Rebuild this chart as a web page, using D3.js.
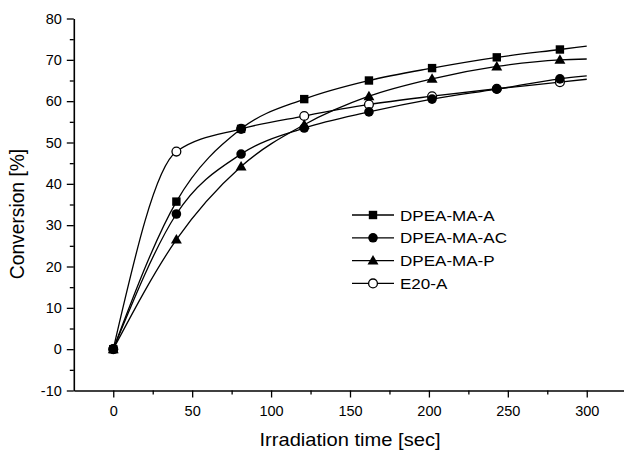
<!DOCTYPE html>
<html>
<head>
<meta charset="utf-8">
<script src="https://cdn.jsdelivr.net/npm/d3@7"></script>
<style>
  html, body { margin: 0; padding: 0; background: #fff; }
  svg { display: block; }
  text { font-family: "Liberation Sans", Arial, Helvetica, sans-serif; fill: #000; }
</style>
</head>
<body>
<svg id="chart" width="624" height="450"></svg>
<script>
// ---- data ----
const times = [0, 40, 81, 121, 162, 202, 243, 283];
const seriesNames = ["DPEA-MA-A", "DPEA-MA-AC", "DPEA-MA-P", "E20-A"];
const dpeaMaA  = [0, 35.7, 53.3, 60.5, 65.0, 68.0, 70.6, 72.5];
const dpeaMaAC = [0, 32.7, 47.2, 53.5, 57.4, 60.5, 62.9, 65.4];
const dpeaMaP  = [0, 26.5, 44.2, 54.3, 61.2, 65.4, 68.4, 70.0];
const e20A     = [0, 47.8, 53.3, 56.4, 59.2, 61.2, 63.0, 64.6];
// spline end (x = 300)
const curveEndTime = 300;
const curveEnd = [73.3, 66.1, 70.2, 65.3];
const markerTypes = ["square", "circle", "triangle", "open"];
const xTicks = [0, 50, 100, 150, 200, 250, 300];
const xMinor = [25, 75, 125, 175, 225, 275];
const yTicks = [-10, 0, 10, 20, 30, 40, 50, 60, 70, 80];
const yMinor = [-5, 5, 15, 25, 35, 45, 55, 65, 75];
const xTitle = "Irradiation time [sec]";
const yTitle = "Conversion [%]";

const allValues = [dpeaMaA, dpeaMaAC, dpeaMaP, e20A];

const svg = d3.select("#chart");
const x = d3.scaleLinear().domain([-25, 325]).range([73.8, 626.2]);
const y = d3.scaleLinear().domain([-10, 80]).range([390.5, 18.5]);

const x0 = x(-25), y0 = y(-10);
const fmt = d => String(d); // plain hyphen-minus like the original

// minor ticks
svg.append("g").attr("transform", `translate(0,${y0})`)
  .call(d3.axisBottom(x).tickValues(xMinor).tickSize(4).tickFormat(""))
  .call(g => g.select(".domain").remove())
  .selectAll("line").attr("stroke-width", 1.3);
svg.append("g").attr("transform", `translate(${x0},0)`)
  .call(d3.axisLeft(y).tickValues(yMinor).tickSize(4).tickFormat(""))
  .call(g => g.select(".domain").remove())
  .selectAll("line").attr("stroke-width", 1.3);

// major axes
const xAxis = svg.append("g").attr("transform", `translate(0,${y0})`)
  .call(d3.axisBottom(x).tickValues(xTicks).tickFormat(fmt).tickSize(7).tickSizeOuter(0).tickPadding(8));
const yAxis = svg.append("g").attr("transform", `translate(${x0},0)`)
  .call(d3.axisLeft(y).tickValues(yTicks).tickFormat(fmt).tickSize(7).tickSizeOuter(0).tickPadding(5));
[xAxis, yAxis].forEach(g => {
  g.select(".domain").attr("stroke-width", 1.6);
  g.selectAll(".tick line").attr("stroke-width", 1.3);
  g.selectAll(".tick text").attr("font-size", 14.5)
    .attr("font-family", '"Liberation Sans", Arial, sans-serif').attr("fill", "#000");
});

// curves
const line = d3.line().x(d => x(d[0])).y(d => y(d[1])).curve(d3.curveMonotoneX);
allValues.forEach((vals, i) => {
  const pts = times.map((t, j) => [t, vals[j]]).concat([[curveEndTime, curveEnd[i]]]);
  svg.append("path").attr("d", line(pts))
    .attr("fill", "none").attr("stroke", "#000").attr("stroke-width", 1.3);
});

function drawMarker(g, type, cx, cy) {
  if (type === "square") {
    g.append("rect").attr("x", cx - 4.2).attr("y", cy - 4.2).attr("width", 8.4).attr("height", 8.4).attr("fill", "#000");
  } else if (type === "circle") {
    g.append("circle").attr("cx", cx).attr("cy", cy).attr("r", 4.8).attr("fill", "#000");
  } else if (type === "triangle") {
    g.append("path").attr("d", d3.symbol(d3.symbolTriangle, 52)()).attr("transform", `translate(${cx},${cy + 0.8})`).attr("fill", "#000");
  } else {
    g.append("circle").attr("cx", cx).attr("cy", cy).attr("r", 4.4).attr("fill", "#fff").attr("stroke", "#000").attr("stroke-width", 1.3);
  }
}

// markers (open circles first so filled markers overlap like the original)
const order = [3, 2, 0, 1];
order.forEach(i => {
  const g = svg.append("g");
  times.forEach((t, j) => drawMarker(g, markerTypes[i], x(t), y(allValues[i][j])));
});

// legend
const legX = 352, legY = 215, legGap = 22.8;
seriesNames.forEach((name, i) => {
  const g = svg.append("g");
  const ly = legY + i * legGap;
  g.append("line").attr("x1", legX).attr("x2", legX + 42).attr("y1", ly).attr("y2", ly)
    .attr("stroke", "#000").attr("stroke-width", 1.3);
  drawMarker(g, markerTypes[i], legX + 21, ly);
  g.append("text").attr("x", 0).attr("y", 0)
    .attr("transform", `translate(${legX + 48},${ly + 5.5}) scale(1.1,1)`)
    .attr("font-size", 15.5).text(name);
});

// axis titles
svg.append("text").attr("transform", `translate(350,446) scale(1.15,1)`)
  .attr("text-anchor", "middle").attr("font-size", 17.5).text(xTitle);
svg.append("text").attr("transform", `translate(24,214) rotate(-90) scale(1.1,1.12)`)
  .attr("text-anchor", "middle").attr("font-size", 17.5).text(yTitle);
</script>
</body>
</html>
